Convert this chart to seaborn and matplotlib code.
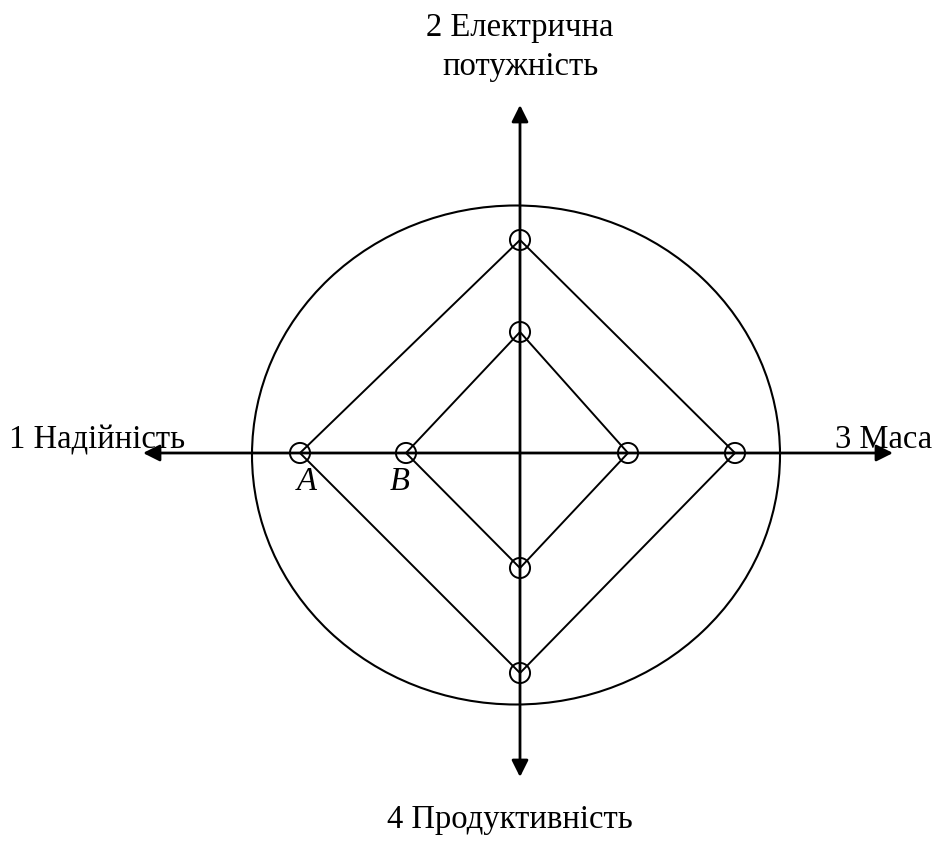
import pandas as pd
import matplotlib.pyplot as plt
import seaborn as sns
from matplotlib.patches import Ellipse

# criteria (axes), in the order 1..4
criteria = ["1 Надійність", "2 Електрична\nпотужність", "3 Маса", "4 Продуктивність"]
# values along each axis (left, up, right, down) for the two variants
variant_a = [220, 213, 215, 220]
variant_b = [114, 121, 108, 115]
variant_names = ["A", "B"]

directions = [(-1, 0), (0, 1), (1, 0), (0, -1)]

rows = []
for name, vals in zip(variant_names, [variant_a, variant_b]):
    for i, v in enumerate(vals + vals[:1]):
        dx, dy = directions[i % 4]
        rows.append({"variant": name, "order": i, "x": dx * v, "y": dy * v})
df = pd.DataFrame(rows)

sns.set_style("white")
plt.rcParams["font.family"] = ["Liberation Serif", "DejaVu Serif"]
plt.rcParams["text.color"] = "black"

fig = plt.figure(figsize=(9.36, 8.5), dpi=100)
ax = fig.add_axes([0, 0, 1, 1])
ax.set_xlim(-520, 416)
ax.set_ylim(-397, 453)
ax.set_aspect("equal")
ax.axis("off")

# outer ellipse
ax.add_patch(Ellipse((-4, -2), 528, 499, fill=False, ec="black", lw=1.5))

# axis arrows
arrow = dict(arrowstyle="<|-|>", color="black", lw=2, mutation_scale=25,
             shrinkA=0, shrinkB=0)
ax.annotate("", xy=(-377, 0), xytext=(373, 0), arrowprops=arrow)
ax.annotate("", xy=(0, 348), xytext=(0, -324), arrowprops=arrow)

# diamonds
for name in variant_names:
    sub = df[df["variant"] == name]
    sns.lineplot(data=sub, x="x", y="y", sort=False, estimator=None,
                 color="black", lw=1.4, ax=ax, legend=False)
    pts = sub[sub["order"] < 4]
    sns.scatterplot(data=pts, x="x", y="y", s=210, facecolor="none",
                    edgecolor="black", linewidth=1.4, ax=ax, legend=False, zorder=5)
ax.set_xlabel("")
ax.set_ylabel("")

# axis labels
fs = 23.5
ax.text(-423, 13, criteria[0], ha="center", va="center", fontsize=fs)
ax.text(0, 406, criteria[1], ha="center", va="center", fontsize=fs, linespacing=1.35)
ax.text(364, 13, criteria[2], ha="center", va="center", fontsize=fs)
ax.text(-10, -367, criteria[3], ha="center", va="center", fontsize=fs)

# variant markers
ax.text(-213, -29, "A", ha="center", va="center", fontsize=fs, style="italic")
ax.text(-120, -29, "B", ha="center", va="center", fontsize=fs, style="italic")

fig.savefig("out.png", dpi=100)
